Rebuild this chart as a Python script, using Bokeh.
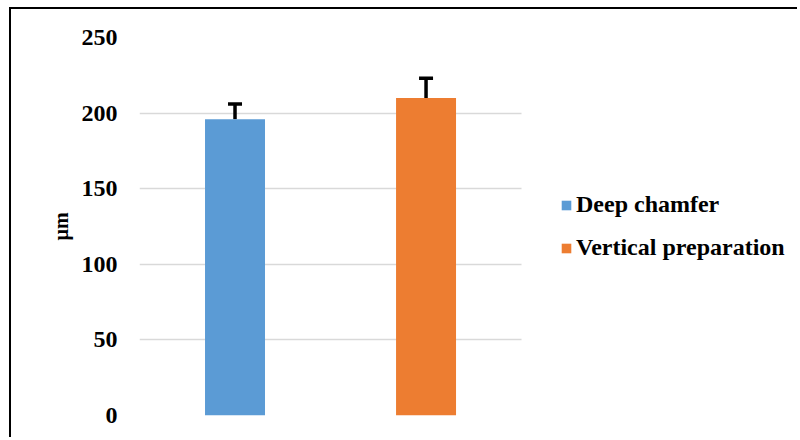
from bokeh.plotting import figure
from bokeh.models import ColumnDataSource, Range1d, Whisker, TeeHead, Legend, LegendItem
from bokeh.embed import file_html
from bokeh.resources import INLINE

categories = ["Deep chamfer", "Vertical preparation"]
means = [196, 210]
errors = [10, 13]
colors = ["#5B9BD5", "#ED7D31"]
y_ticks = [0, 50, 100, 150, 200, 250]

xpos = [i + 0.5 for i in range(len(categories))]
upper = [m + e for m, e in zip(means, errors)]
src = ColumnDataSource(dict(x=xpos, top=means, upper=upper))

FONT = "Liberation Serif"

# frame spans bars + legend area; bars occupy the first len(categories) units
p = figure(width=788, height=430, output_backend="svg", toolbar_location=None,
           x_range=Range1d(0, 3.455), y_range=Range1d(0, 250),
           min_border_left=128, min_border_right=0, min_border_top=28, min_border_bottom=24)
p.margin = (7, 0, 0, 9)
p.styles = {"border-left": "2px solid black", "border-top": "2px solid black"}
p.outline_line_color = None
p.background_fill_color = "white"
p.border_fill_color = "white"

r1 = p.vbar(x=[xpos[0]], top=[means[0]], width=0.314, color=colors[0], line_color=None)
r2 = p.vbar(x=[xpos[1]], top=[means[1]], width=0.314, color=colors[1], line_color=None)

w = Whisker(source=src, base="x", lower="top", upper="upper", line_width=3.5, line_color="black",
            upper_head=TeeHead(size=14, line_width=3.5, line_color="black"), lower_head=None)
p.add_layout(w)

p.xaxis.visible = False
p.xgrid.visible = False
p.ygrid.grid_line_color = "#d9d9d9"
p.ygrid.grid_line_width = 1.5
p.ygrid.cross_bounds = (0, len(categories))
p.yaxis.ticker = y_ticks
p.yaxis.axis_line_color = None
p.yaxis.major_tick_line_color = None
p.yaxis.minor_tick_line_color = None
p.yaxis.major_tick_out = 0
p.yaxis.major_tick_in = 0
p.yaxis.minor_tick_out = 0
p.yaxis.major_label_text_font = FONT
p.yaxis.major_label_text_font_style = "bold"
p.yaxis.major_label_text_font_size = "24px"
p.yaxis.major_label_text_color = "black"
p.yaxis.major_label_standoff = 22
p.yaxis.axis_label = "µm"
p.yaxis.axis_label_text_font = FONT
p.yaxis.axis_label_text_font_style = "bold"
p.yaxis.axis_label_text_font_size = "20px"
p.yaxis.axis_label_text_color = "black"
p.yaxis.axis_label_standoff = 7

legend = Legend(items=[LegendItem(label=categories[0], renderers=[r1]),
                       LegendItem(label=categories[1], renderers=[r2])],
                location=(421, 154), orientation="vertical",
                border_line_color=None, background_fill_alpha=0,
                padding=0, margin=0, spacing=16,
                glyph_width=12, glyph_height=12, label_height=24,
                label_standoff=4,
                label_text_font=FONT, label_text_font_style="bold",
                label_text_font_size="24px", label_text_color="black")
p.add_layout(legend)

open("out.html", "w").write(file_html(p, INLINE))
